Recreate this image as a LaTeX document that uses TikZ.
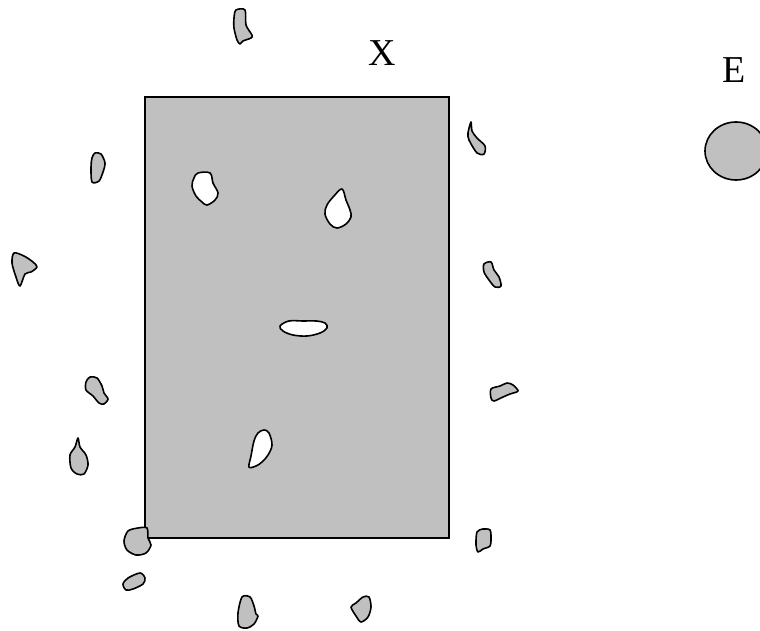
\documentclass[tikz,border=0pt]{standalone}
\usepackage{fontspec}
\setmainfont{Liberation Serif}
\definecolor{silverfill}{RGB}{192,192,192}
\tikzset{
  blob/.style={draw=black, line width=1.6pt, fill=silverfill, line join=round},
  hole/.style={draw=black, line width=1.6pt, fill=white, line join=round},
  label/.style={font=\fontsize{38}{38}\selectfont, inner sep=0pt}
}
\begin{document}
\begin{tikzpicture}[x=1pt,y=-1pt]
\useasboundingbox (0,0) rectangle (760,631);
\clip (0,0) rectangle (760,631);
\fill[white] (0,0) rectangle (760,631);
% main rectangle
\draw[line width=2pt, fill=silverfill] (145,97) rectangle (449,538);
% holes
\draw[hole] plot[smooth cycle, tension=0.6] coordinates {(198,173) (210,173) (213,183) (218,193) (215,200) (207,205) (202,202) (196,196) (192,186) (194,178)};
\draw[hole] plot[smooth cycle, tension=0.6] coordinates {(342,189) (346,200) (350,210) (351,217) (346,224) (337,228) (330,224) (325,214) (327,205) (334,196)};
\draw[hole] plot[smooth cycle, tension=0.6] coordinates {(289,321) (303,321) (316,321) (325,323) (327,328) (320,333) (307,336) (293,335) (283,331) (280,326)};
\draw[hole] plot[smooth cycle, tension=0.6] coordinates {(264,430) (269,433) (272,445) (268,455) (262,462) (256,466) (249,467) (251,456) (254,441) (258,433)};
% outer blobs
\draw[blob] plot[smooth cycle, tension=0.5] coordinates {(236,10) (245,10) (246,25) (252,35) (251,38) (243,41) (240,44) (237,40) (234,28) (234,18)};
\draw[blob] plot[smooth cycle, tension=0.5] coordinates {(95,153) (101,154) (105,163) (103,172) (99,181) (92,182) (91,168) (92,158)};
\draw[blob] plot[smooth cycle, tension=0.5] coordinates {(14,253) (24,256) (33,262) (37,267) (31,272) (25,274) (20,286) (16,277) (12,263)};
\draw[blob] plot[smooth cycle, tension=0.5] coordinates {(471,122) (472,131) (477,138) (485,146) (484,154) (477,153) (469,140) (468,133)};
\draw[blob] plot[smooth cycle, tension=0.5] coordinates {(484,264) (491,262) (494,270) (499,277) (501,286) (495,287) (489,280) (484,272)};
\draw[blob] plot[smooth cycle, tension=0.5] coordinates {(90,377) (97,378) (102,386) (104,393) (108,399) (104,404) (99,403) (93,396) (86,390) (86,382)};
\draw[blob] plot[smooth cycle, tension=0.5] coordinates {(78,438) (80,447) (86,455) (88,465) (84,474) (77,474) (71,468) (70,455) (75,447)};
\draw[blob] plot[smooth cycle, tension=0.5] coordinates {(491,389) (500,386) (507,383) (513,385) (518,391) (510,394) (503,397) (494,401) (491,398)};
\draw[blob] plot[smooth cycle, tension=0.5] coordinates {(477,532) (483,529) (490,530) (491,538) (490,546) (483,549) (478,552) (476,545)};
\draw[blob] plot[smooth cycle, tension=0.5] coordinates {(128,531) (138,528) (147,528) (148,538) (151,545) (146,553) (136,555) (127,550) (124,541)};
\draw[blob] plot[smooth cycle, tension=0.5] coordinates {(128,578) (140,573) (145,578) (143,584) (133,589) (126,590) (123,584)};
\draw[blob] plot[smooth cycle, tension=0.5] coordinates {(242,597) (250,597) (254,606) (256,614) (258,616) (254,624) (247,628) (239,626) (238,613)};
\draw[blob] plot[smooth cycle, tension=0.5] coordinates {(363,597) (369,597) (371,607) (368,617) (361,622) (356,616) (351,607) (356,603)};
% E circle
\draw[blob] (736,151) ellipse [x radius=31, y radius=29];
% labels
\node[label] (labX) at (382,53) {X};
\node[label] (labE) at (734,70) {E};
\end{tikzpicture}
\end{document}
